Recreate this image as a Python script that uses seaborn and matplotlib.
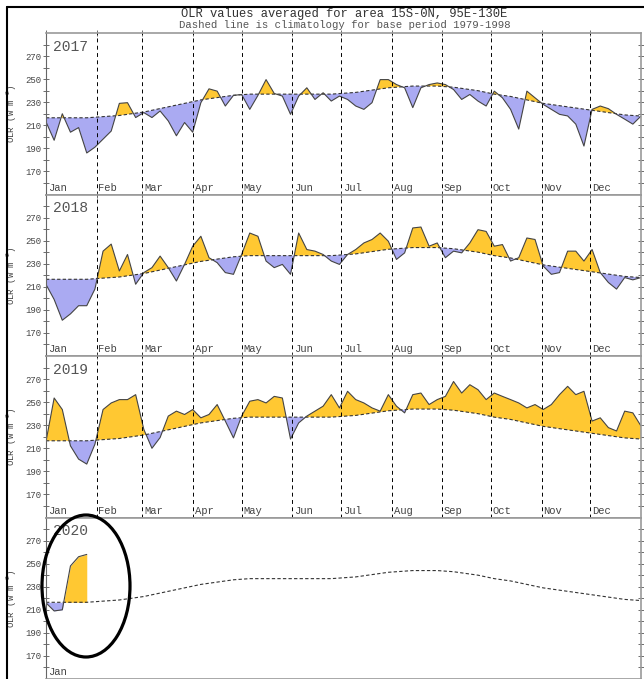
# OLR daily values vs climatology, 4 stacked yearly panels
import numpy as np
import matplotlib
matplotlib.use("Agg")
import matplotlib.pyplot as plt
import seaborn as sns
from matplotlib.lines import Line2D
from matplotlib.patches import Ellipse

# pentad sample days (day of year)
days = list(range(0, 366, 5))

# climatology 1979-1998
clim = [216.5, 216.5, 216.5, 216.5, 216.5, 216.5, 217,
        217.5, 218, 218.5, 219.5, 220.5,
        221.5, 223, 224.5, 226, 227.5, 229,
        230.5, 232, 233, 234, 235, 236,
        236.5, 237, 237, 237, 237, 237,
        237, 237, 237, 237, 237, 237,
        237.5, 238, 238.5, 239.5, 240.5, 241.5, 242.5,
        243, 243.5, 244, 244, 244, 244,
        243.5, 243, 242, 241, 240, 238.5,
        237, 236, 235, 233.5, 232, 230.5,
        229, 228, 227, 226, 225, 224,
        223, 222, 221, 220, 219, 218.5, 218]

olr_2017 = [213, 197, 220, 204, 208, 186, 191,
            198, 205, 229, 229.6, 216.7,
            221, 216.7, 222.4, 213.8, 200.9, 212.4,
            204, 229.6, 241.6, 239.6, 226.7, 235.9,
            236.7, 223.8, 235.9, 249.6, 237.6, 235.3,
            219.5, 235.3, 242.5, 232.4, 238.2, 231,
            235.3, 232.4, 226.7, 223.8, 229.6, 249.6, 249.6,
            245.3, 242.5, 225.3, 242.5, 245.3, 246.7,
            245.3, 241, 232.4, 236.7, 231, 226.7,
            239.6, 233.8, 223.8, 206.7, 239.6, 233.8,
            228.1, 223.8, 219.5, 218.1, 211, 192,
            223.8, 226.7, 224.4, 219.5, 215.3, 211, 218]

olr_2018 = [212, 199, 181, 186.5, 193.6, 193.6, 208,
            240.9, 247, 223.7, 238, 212.2,
            222.3, 226.6, 236.6, 226.6, 215, 229.4,
            245.2, 253.8, 235.2, 230.9, 222.3, 220.8,
            238, 256.6, 253.8, 232.3, 226.6, 229.4,
            220.8, 256.6, 242.3, 240.9, 238, 232.3,
            229.4, 238, 242.3, 248, 251, 256.6, 249.5,
            233.7, 239.4, 261, 261.8, 245.2, 248,
            235.2, 240.9, 239.4, 248, 259.5, 258,
            245.2, 246.6, 232.3, 235.2, 252.3, 251,
            228, 220.8, 222.3, 240.9, 240.9, 232.3,
            242.3, 222.3, 213.7, 208, 218, 216, 218]

olr_2019 = [216, 253.6, 243.6, 212.1, 200.6, 196.3, 213.5,
            243.6, 249.3, 252.2, 252.2, 256.5,
            226.4, 210, 219.3, 237.9, 242.2, 239.3,
            243.6, 236.4, 239.3, 247.9, 233.6, 219,
            237.9, 250.8, 252.2, 249.3, 255, 253.6,
            218, 232, 237.9, 242.2, 246.5, 256.5,
            245, 259.4, 252.2, 249.3, 245, 242.2, 256.5,
            246.5, 240.7, 256.5, 257.9, 247.9, 252.2,
            255, 267.9, 257.9, 265.1, 260.8, 252.2,
            257.9, 255, 252.2, 249.3, 245, 247.9,
            243.6, 247.9, 256.5, 263.7, 256.5, 259.4,
            233.6, 236.4, 227.9, 225, 242.2, 240.7, 229.3]

# 2020 only has January so far
olr_2020 = [216, 209, 210, 248, 256, 258]

years = ["2017", "2018", "2019", "2020"]
series = [olr_2017, olr_2018, olr_2019, olr_2020]

month_names = ["Jan", "Feb", "Mar", "Apr", "May", "Jun",
               "Jul", "Aug", "Sep", "Oct", "Nov", "Dec"]
month_starts = [0, 31, 59, 90, 120, 151, 181, 212, 243, 273, 304, 334]

YELLOW = "#ffc832"
BLUE = "#aaaaf2"
TXT = "#444444"

sns.set_style("ticks")
plt.rcParams["font.family"] = ["Liberation Mono", "DejaVu Sans Mono"]

W, H = 644, 679
fig = plt.figure(figsize=(W / 100, H / 100), dpi=100)

left, right = 46, 641
top0, ph = 33, 161.5

clim_arr = np.array(clim)
for i, (yr, vals) in enumerate(zip(years, series)):
    y_top = top0 + i * ph
    ax = fig.add_axes([left / W, 1 - (y_top + ph) / H, (right - left) / W, ph / H])
    n = len(vals)
    d = np.array(days[:n])
    v = np.array(vals, dtype=float)
    c = clim_arr[:n]

    ax.fill_between(d, v, c, where=v >= c, interpolate=True, color=YELLOW, lw=0)
    ax.fill_between(d, v, c, where=v <= c, interpolate=True, color=BLUE, lw=0)
    sns.lineplot(x=days, y=clim, ax=ax, color="#333333", lw=0.8, linestyle=(0, (3, 2)))
    sns.lineplot(x=d, y=v, ax=ax, color="#444444", lw=0.8)

    ax.set_xlim(0, 365)
    ax.set_ylim(150, 290)

    # month separators and labels
    if yr != "2020":
        for m in month_starts[1:]:
            ax.axvline(m, color="black", lw=0.7, linestyle=(0, (4, 3.5)))
        labels = month_names
        ax.set_xticks(month_starts)
        ax.tick_params(axis="x", which="both", bottom=True, top=True,
                       direction="inout", length=4, width=0.6,
                       labelbottom=False, color="#555555")
    else:
        labels = month_names[:1]
        ax.set_xticks([])
    for m, name in zip(month_starts, labels):
        ax.text(m + 1.2, 156, name, fontsize=7.6, color=TXT, va="center", ha="left")

    ax.set_yticks(range(170, 271, 20))
    ax.set_yticks(range(160, 290, 10), minor=True)
    ax.tick_params(axis="y", which="both", left=True, right=True, direction="inout",
                   length=4, width=0.6, labelsize=6.5, labelcolor=TXT,
                   color="#555555", pad=1)
    ax.set_ylabel("OLR (W m$^{-2}$)", fontsize=6.5, color=TXT)
    ax.yaxis.set_label_coords(-0.045, 0.5)

    for side in ["top", "bottom", "right"]:
        ax.spines[side].set_color("#999999")
        ax.spines[side].set_linewidth(1.2)
    ax.spines["left"].set_color("#666666")
    ax.spines["left"].set_linewidth(0.8)

    ax.text(0.012, 0.915, yr, transform=ax.transAxes, fontsize=10.5,
            color="#555555", va="center", ha="left")

fig.text(344 / W, 1 - 14 / H, "OLR values averaged for area 15S-0N, 95E-130E",
         fontsize=8.7, ha="center", va="center", color="#333333")
fig.text(345 / W, 1 - 25 / H, "Dashed line is climatology for base period 1979-1998",
         fontsize=7.7, ha="center", va="center", color="#555555")

# outer frame (cut off at right and bottom)
fig.add_artist(Line2D([7 / W, 7 / W], [0, 1 - 7 / H], transform=fig.transFigure, color="black", lw=1.5))
fig.add_artist(Line2D([7 / W, 1], [1 - 7 / H, 1 - 7 / H], transform=fig.transFigure, color="black", lw=1.5))

# highlight ellipse around the 2020 data
fig.add_artist(Ellipse((86 / W, 1 - 586 / H), 88 / W, 142 / H, transform=fig.transFigure,
                       fill=False, ec="black", lw=2.3))

fig.savefig("out.png", dpi=100)
